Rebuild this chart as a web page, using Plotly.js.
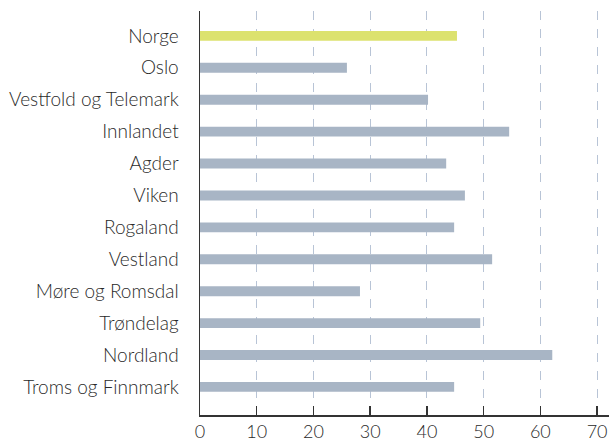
<!DOCTYPE html>
<html>
<head>
<meta charset="utf-8">
<script src="https://cdn.plot.ly/plotly-3.0.1.min.js"></script>
<style>html,body{margin:0;padding:0;background:#fff;}#chart{width:609px;height:444px;}</style>
</head>
<body>
<div id="chart"></div>
<script>
const categories = ["Norge","Oslo","Vestfold og Telemark","Innlandet","Agder","Viken","Rogaland","Vestland","Møre og Romsdal","Trøndelag","Nordland","Troms og Finnmark"];
const values = [45.3, 25.9, 40.2, 54.5, 43.4, 46.7, 44.8, 51.5, 28.2, 49.4, 62.1, 44.8];
const tickVals = [0, 10, 20, 30, 40, 50, 60, 70];
const highlight = "Norge";

const colors = categories.map(c => c === highlight ? "#dce26e" : "#a8b5c5");

const trace = {
  type: "bar",
  orientation: "h",
  x: values,
  y: categories,
  marker: {color: colors},
  hoverinfo: "none"
};

const layout = {
  width: 609, height: 444,
  margin: {l: 200, r: 0, t: 11, b: 29},
  paper_bgcolor: "#fff", plot_bgcolor: "#fff",
  bargap: 0.69,
  showlegend: false,
  font: {family: "Lato, 'Open Sans', sans-serif", color: "#2a2a2a", size: 17, weight: 300},
  xaxis: {
    range: [0, 72.1],
    tickvals: tickVals,
    ticktext: tickVals.map(String),
    ticks: "inside", ticklen: 9, tickcolor: "#333", tickwidth: 1.5,
    showline: true, linecolor: "#333", linewidth: 1.5,
    showgrid: true, gridcolor: "#b8c4d6", griddash: "dash", gridwidth: 1,
    zeroline: false,
    tickfont: {size: 18, family: "Lato, sans-serif", weight: 300, color: "#2a2a2a"}
  },
  yaxis: {
    type: "category",
    categoryorder: "array", categoryarray: categories,
    range: [11.88, -0.78],
    showline: true, linecolor: "#333", linewidth: 1.5,
    showgrid: false, zeroline: false,
    ticks: "", ticklabelstandoff: 16,
    tickfont: {size: 19, family: "Lato, sans-serif", weight: 300, color: "#2a2a2a"}
  }
};

Plotly.newPlot("chart", [trace], layout, {displayModeBar: false, staticPlot: true});
</script>
</body>
</html>
